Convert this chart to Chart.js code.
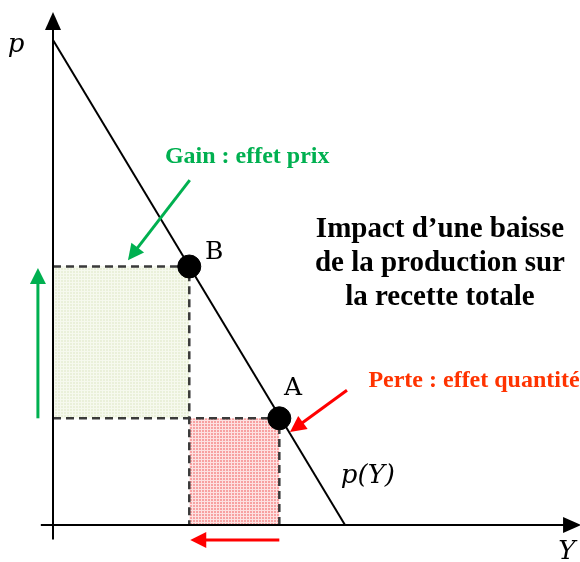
<!DOCTYPE html>
<html>
<head>
<meta charset="utf-8">
<script src="https://cdn.jsdelivr.net/npm/chart.js@4"></script>
<style>
  html, body { margin: 0; padding: 0; background: #fff; }
  #wrap { width: 580px; height: 562px; }
</style>
</head>
<body>
<div id="wrap"><canvas id="myChart"></canvas></div>
<script>
// demand curve p(Y)
const demandY = [0, 6];
const demandP = [10, 0];

// the two equilibrium points (Y, p)
const pointB = [2.8, 5.33];
const pointA = [4.65, 2.2];

// arrows: [Y0, p0, Y1, p1]
const axisArrows = [
  [0, -0.3, 0, 10.58],
  [-0.25, 0, 10.85, 0]
];
const greenArrows = [
  [-0.31, 2.2, -0.31, 5.3],
  [2.81, 7.11, 1.54, 5.46]
];
const redArrows = [
  [4.65, -0.31, 2.82, -0.31],
  [6.04, 2.78, 4.87, 1.92]
];

// text labels [text, Y, p]
const mathLabels = [['p', -0.76, 9.9], ['Y', 10.56, -0.56], ['p(Y)', 6.47, 1.01]];
const pointLabels = [['B', 3.31, 5.61], ['A', 4.93, 2.82]];
const titleLines = [['Impact d\u2019une baisse', 7.95, 6.1], ['de la production sur', 7.95, 5.4], ['la recette totale', 7.95, 4.7]];
const gainLabel = ['Gain : effet prix', 3.99, 7.59];
const perteLabel = ['Perte : effet quantit\u00e9', 8.65, 2.97];

function makePattern(base, line) {
  const c = document.createElement('canvas');
  c.width = 3; c.height = 3;
  const g = c.getContext('2d');
  g.fillStyle = base; g.fillRect(0, 0, 3, 3);
  g.fillStyle = line; g.fillRect(0, 0, 3, 1); g.fillRect(0, 0, 1, 3);
  return g.createPattern(c, 'repeat');
}

function arrow(ctx, x0, y0, x1, y1, color, w, len, half) {
  const a = Math.atan2(y1 - y0, x1 - x0);
  ctx.save();
  ctx.strokeStyle = color; ctx.fillStyle = color; ctx.lineWidth = w;
  ctx.beginPath();
  ctx.moveTo(x0, y0);
  ctx.lineTo(x1 - Math.cos(a) * len * 0.8, y1 - Math.sin(a) * len * 0.8);
  ctx.stroke();
  ctx.beginPath();
  ctx.moveTo(x1, y1);
  ctx.lineTo(x1 - Math.cos(a) * len + Math.sin(a) * half, y1 - Math.sin(a) * len - Math.cos(a) * half);
  ctx.lineTo(x1 - Math.cos(a) * len - Math.sin(a) * half, y1 - Math.sin(a) * len + Math.cos(a) * half);
  ctx.closePath();
  ctx.fill();
  ctx.restore();
}

const diagram = {
  id: 'diagram',
  beforeDatasetsDraw(chart) {
    const ctx = chart.ctx, xs = chart.scales.x, ys = chart.scales.y;
    const px = v => xs.getPixelForValue(v), py = v => ys.getPixelForValue(v);
    // rectangles
    ctx.save();
    ctx.fillStyle = makePattern('#eaf0da', '#f6f9ee');
    ctx.fillRect(px(0), py(pointB[1]), px(pointB[0]) - px(0), py(pointA[1]) - py(pointB[1]));
    ctx.fillStyle = makePattern('#f7a2a2', '#fde2e2');
    ctx.fillRect(px(pointB[0]), py(pointA[1]), px(pointA[0]) - px(pointB[0]), py(0) - py(pointA[1]));
    // dashed edges
    ctx.strokeStyle = '#3a3a3a'; ctx.lineWidth = 2.5; ctx.setLineDash([8, 5]);
    ctx.beginPath();
    ctx.moveTo(px(0), py(pointB[1])); ctx.lineTo(px(pointB[0]), py(pointB[1])); ctx.lineTo(px(pointB[0]), py(0));
    ctx.moveTo(px(0), py(pointA[1])); ctx.lineTo(px(pointA[0]), py(pointA[1])); ctx.lineTo(px(pointA[0]), py(0));
    ctx.stroke();
    ctx.restore();
    axisArrows.forEach(a => arrow(ctx, px(a[0]), py(a[1]), px(a[2]), py(a[3]), '#000', 2, 18, 8));
  },
  afterDatasetsDraw(chart) {
    const ctx = chart.ctx, xs = chart.scales.x, ys = chart.scales.y;
    const px = v => xs.getPixelForValue(v), py = v => ys.getPixelForValue(v);
    greenArrows.forEach(a => arrow(ctx, px(a[0]), py(a[1]), px(a[2]), py(a[3]), '#00b050', 3, 16, 8));
    redArrows.forEach(a => arrow(ctx, px(a[0]), py(a[1]), px(a[2]), py(a[3]), '#ff0000', 3, 16, 8));
    ctx.save();
    ctx.textAlign = 'center'; ctx.textBaseline = 'middle';
    ctx.fillStyle = '#000';
    ctx.font = 'italic 26px "DejaVu Serif"';
    mathLabels.forEach(l => ctx.fillText(l[0], px(l[1]), py(l[2])));
    ctx.font = '25px "DejaVu Serif"';
    pointLabels.forEach(l => ctx.fillText(l[0], px(l[1]), py(l[2])));
    ctx.font = 'bold 29px "Liberation Serif"';
    titleLines.forEach(l => ctx.fillText(l[0], px(l[1]), py(l[2])));
    ctx.font = 'bold 24px "Liberation Serif"';
    ctx.fillStyle = '#00b050';
    ctx.fillText(gainLabel[0], px(gainLabel[1]), py(gainLabel[2]));
    ctx.fillStyle = '#ff3300';
    ctx.fillText(perteLabel[0], px(perteLabel[1]), py(perteLabel[2]));
    ctx.restore();
  }
};

new Chart(document.getElementById('myChart'), {
  type: 'scatter',
  data: {
    datasets: [
      {
        data: demandY.map((y, i) => ({ x: y, y: demandP[i] })),
        showLine: true, borderColor: '#000', borderWidth: 2, pointRadius: 0
      },
      {
        data: [{ x: pointB[0], y: pointB[1] }, { x: pointA[0], y: pointA[1] }],
        pointRadius: 11.5, pointBackgroundColor: '#000', pointBorderColor: '#000'
      }
    ]
  },
  options: {
    responsive: true,
    maintainAspectRatio: false,
    animation: false,
    layout: { padding: 0, autoPadding: false },
    plugins: { legend: { display: false }, tooltip: { enabled: false } },
    scales: {
      x: { type: 'linear', display: false, min: -1.089, max: 10.828 },
      y: { type: 'linear', display: false, min: -0.763, max: 10.825 }
    }
  },
  plugins: [diagram]
});
</script>
</body>
</html>
